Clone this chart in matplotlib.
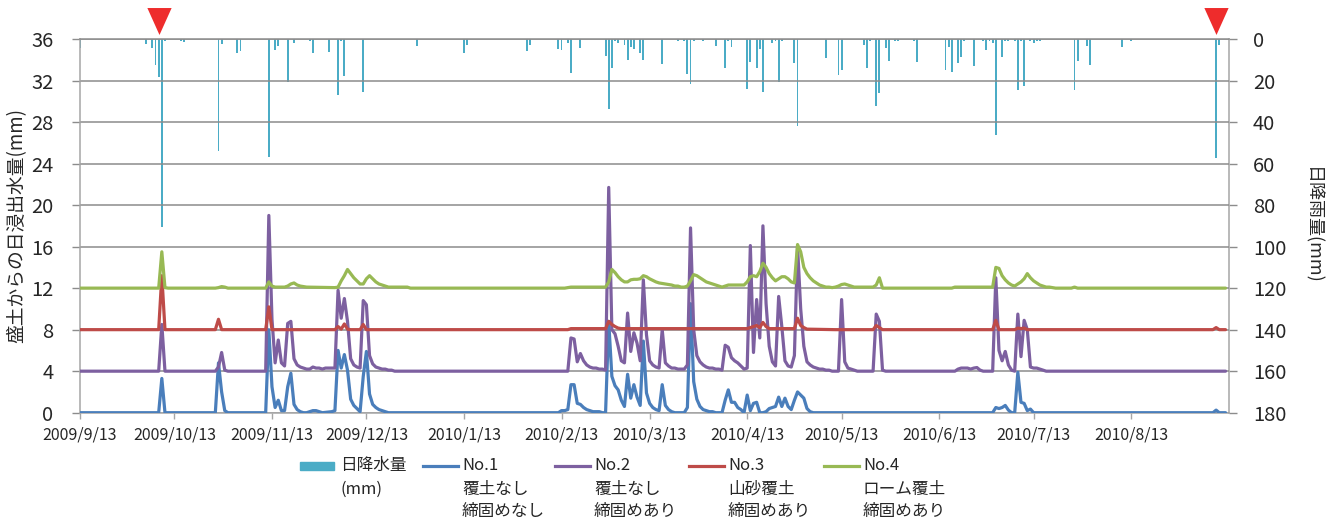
import matplotlib
matplotlib.use('Agg')
import matplotlib.pyplot as plt
import matplotlib.dates as mdates
import matplotlib.transforms as mtransforms
from matplotlib.lines import Line2D
from matplotlib.patches import Rectangle
import numpy as np
import datetime as dt

plt.rcParams['font.family'] = ['Noto Sans CJK JP', 'DejaVu Sans']

# ---------------- data ----------------
START = dt.date(2009, 9, 13)
END = dt.date(2010, 9, 13)

tick_dates = [dt.date(2009, 9, 13), dt.date(2009, 10, 13), dt.date(2009, 11, 13),
              dt.date(2009, 12, 13), dt.date(2010, 1, 13), dt.date(2010, 2, 13),
              dt.date(2010, 3, 13), dt.date(2010, 4, 13), dt.date(2010, 5, 13),
              dt.date(2010, 6, 13), dt.date(2010, 7, 13), dt.date(2010, 8, 13)]
tick_labels = ['2009/9/13', '2009/10/13', '2009/11/13', '2009/12/13', '2010/1/13',
               '2010/2/13', '2010/3/13', '2010/4/13', '2010/5/13', '2010/6/13',
               '2010/7/13', '2010/8/13']

# daily rainfall (day offset from 2009/9/13, mm)
rain_days = [0, 21, 23, 24, 25, 26, 27, 32, 33, 44, 45, 50, 51, 60, 62, 63, 66, 68,
             73, 74, 79, 82, 83, 84, 90, 107, 122, 123, 142, 143, 152, 153, 155, 156,
             159, 167, 168, 169, 170, 171, 173, 174, 175, 176, 178, 179, 185, 190, 192,
             193, 194, 195, 198, 202, 205, 206, 207, 212, 213, 215, 216, 217, 220, 221,
             222, 223, 227, 228, 237, 241, 242, 249, 250, 251, 253, 254, 256, 257, 259,
             260, 265, 266, 275, 276, 277, 279, 280, 281, 284, 287, 288, 289, 290, 291,
             293, 294, 295, 297, 298, 299, 300, 302, 303, 304, 305, 316, 317, 320, 321,
             331, 334, 361, 362]
rain_mm = [4.3, 2.4, 4.3, 12.3, 18.4, 90.4, 0.8, 0.8, 1.4, 53.9, 2.4, 6.9, 5.9, 56.8, 5.3,
           3.4, 20.8, 2.1, 0.8, 6.9, 6.4, 26.9, 0.8, 17.9, 25.3, 3.4, 6.9, 2.7, 5.9, 2.7,
           4.8, 5.3, 2.1, 16.3, 4.3, 8.3, 33.9, 14.2, 1.1, 1.8, 2.7, 9.9, 3.7, 4.8, 6.9,
           9.9, 12.0, 0.8, 1.1, 16.8, 21.9, 1.1, 0.8, 3.4, 14.2, 0.8, 3.7, 24.3, 11.2,
           13.8, 4.8, 25.3, 2.1, 0.8, 20.8, 1.1, 11.8, 41.9, 9.3, 17.3, 14.7, 2.7, 14.2,
           0.8, 32.3, 25.9, 4.3, 10.4, 0.8, 0.8, 0.8, 10.9, 14.7, 3.7, 15.8, 11.4, 8.8,
           1.1, 12.8, 1.1, 5.3, 0.8, 2.1, 46.4, 8.8, 0.8, 0.8, 0.8, 24.8, 0.8, 22.7, 1.1,
           2.1, 0.8, 1.1, 24.8, 10.4, 3.2, 12.3, 3.7, 0.8, 57.4, 2.7]

# No.1 (覆土なし 締固めなし)
no1_days = [0, 25, 26, 27, 43, 44, 45, 46, 47, 59, 60, 61, 62, 63, 64, 65, 66, 67, 68, 69,
            70, 71, 72, 73, 74, 75, 76, 77, 80, 81, 82, 83, 84, 85, 86, 87, 88, 89, 90, 91,
            92, 93, 94, 95, 96, 97, 98, 152, 153, 154, 155, 156, 157, 158, 159, 160, 161,
            162, 163, 165, 166, 167, 168, 169, 170, 171, 172, 173, 174, 175, 176, 177, 178,
            179, 180, 181, 182, 183, 184, 185, 186, 187, 188, 189, 192, 193, 194, 195, 196,
            197, 198, 199, 200, 201, 202, 204, 205, 206, 207, 208, 209, 210, 211, 212, 213,
            214, 215, 216, 217, 218, 219, 220, 221, 222, 223, 224, 225, 226, 227, 228, 229,
            230, 231, 232, 233, 290, 291, 292, 293, 294, 295, 296, 297, 298, 299, 300, 301,
            302, 303, 360, 361, 362, 364]
no1_vals = [0, 0, 3.3, 0, 0, 4.8, 2.0, 0.2, 0, 0, 8.0, 2.5, 0.5, 1.2, 0.2, 0.2, 2.5, 3.8,
            0.8, 0.3, 0.1, 0, 0, 0.1, 0.2, 0.2, 0.1, 0, 0.1, 0.2, 6.0, 4.3, 5.6, 4.1, 1.3,
            0.7, 0.4, 0.1, 3.5, 5.9, 1.8, 0.8, 0.5, 0.3, 0.2, 0.1, 0, 0, 0.2, 0.2, 0.3, 2.7,
            2.7, 0.9, 0.8, 0.5, 0.3, 0.2, 0.1, 0.1, 0, 0, 8.8, 3.5, 2.6, 2.2, 1.2, 0.6, 3.7,
            1.4, 2.7, 1.5, 0.7, 6.9, 1.9, 0.9, 0.5, 0.3, 0.2, 2.7, 0.7, 0.3, 0.1, 0, 0, 0.5,
            10.5, 3.0, 1.3, 0.6, 0.3, 0.2, 0.1, 0.1, 0, 0, 1.2, 2.2, 1.0, 1.0, 0.5, 0.3, 0,
            1.7, 0.2, 0.9, 1.0, 0, 0, 0.1, 0.4, 0.5, 0.6, 1.5, 0.6, 1.4, 0.6, 0.3, 1.2, 2.0,
            1.7, 1.4, 0.4, 0.1, 0, 0, 0.5, 0.4, 0.5, 0.7, 0.25, 0, 0, 3.9, 1.0, 0.9, 0.2,
            0.35, 0, 0, 0.25, 0, 0]

# No.2 (覆土なし 締固めあり)
no2_days = [0, 25, 26, 27, 43, 44, 45, 46, 47, 59, 60, 61, 62, 63, 64, 65, 66, 67, 68, 69,
            70, 71, 72, 73, 74, 75, 76, 77, 78, 79, 80, 81, 82, 83, 84, 85, 86, 87, 88, 89,
            90, 91, 92, 93, 94, 95, 96, 97, 98, 99, 100, 155, 156, 157, 158, 159, 160, 161,
            162, 163, 164, 165, 166, 167, 168, 169, 170, 171, 172, 173, 174, 175, 176, 177,
            178, 179, 180, 181, 182, 183, 184, 185, 186, 187, 188, 189, 190, 192, 193, 194,
            195, 196, 197, 198, 199, 200, 201, 202, 203, 204, 205, 206, 207, 208, 209, 210,
            211, 212, 213, 214, 215, 216, 217, 218, 219, 220, 221, 222, 223, 224, 225, 226,
            227, 228, 229, 230, 231, 232, 233, 234, 235, 236, 237, 238, 239, 241, 242, 243,
            244, 245, 246, 247, 252, 253, 254, 255, 256, 278, 279, 280, 281, 282, 283, 284,
            285, 286, 287, 290, 291, 292, 293, 294, 295, 296, 297, 298, 299, 300, 301, 302,
            303, 304, 305, 306, 307, 364]
no2_vals = [4, 4, 8.5, 4, 4, 4.4, 5.8, 4.1, 4, 4, 19.0, 9.0, 4.8, 7.0, 4.8, 4.5, 8.6, 8.8,
            5.2, 4.6, 4.4, 4.3, 4.2, 4.2, 4.4, 4.3, 4.3, 4.2, 4.3, 4.3, 4.3, 4.3, 11.8, 9.1,
            11.0, 8.8, 5.2, 4.6, 4.4, 4.3, 10.8, 10.4, 5.5, 4.7, 4.4, 4.3, 4.2, 4.2, 4.1,
            4.1, 4.0, 4.0, 7.2, 7.1, 4.9, 5.7, 5.0, 4.6, 4.4, 4.3, 4.3, 4.2, 4.2, 4.1, 21.7,
            8.0, 7.6, 6.4, 5.0, 4.8, 9.6, 5.9, 7.7, 6.7, 5.0, 12.8, 7.5, 5.0, 4.6, 4.4, 4.3,
            8.0, 4.8, 4.5, 4.3, 4.3, 4.2, 4.2, 4.6, 17.8, 8.0, 5.5, 4.9, 4.6, 4.4, 4.3, 4.3,
            4.2, 4.2, 4.1, 6.5, 6.3, 5.3, 5.0, 4.8, 4.5, 4.2, 4.3, 16.1, 5.8, 10.9, 7.2,
            18.0, 10.5, 6.4, 4.9, 4.5, 11.2, 8.3, 5.0, 4.5, 4.4, 5.5, 16.0, 10.0, 6.4, 4.9,
            4.6, 4.4, 4.3, 4.2, 4.2, 4.1, 4.1, 4.0, 4.0, 10.9, 4.9, 4.3, 4.2, 4.1, 4.0, 4.0,
            9.5, 8.8, 4.1, 4.0, 4.0, 4.2, 4.3, 4.3, 4.3, 4.2, 4.3, 4.35, 4.1, 4.0, 4.0, 13.0,
            6.0, 5.0, 5.9, 4.6, 4.1, 4.0, 9.5, 5.4, 8.9, 8.0, 4.4, 4.3, 4.3, 4.2, 4.1, 4.0,
            4.0]

# No.3 (山砂覆土 締固めあり)
no3_days = [0, 25, 26, 27, 43, 44, 45, 59, 60, 61, 81, 82, 83, 84, 85, 86, 89, 90, 91, 155,
            156, 167, 168, 169, 170, 171, 172, 212, 213, 214, 215, 216, 217, 218, 219, 227,
            228, 229, 230, 231, 240, 252, 253, 254, 255, 290, 291, 292, 297, 298, 299, 300,
            301, 360, 361, 362, 364]
no3_vals = [8, 8, 13.2, 8, 8, 9.0, 8, 8, 10.2, 8, 8, 8.3, 8.05, 8.55, 8.05, 8, 8, 8.5, 8, 8,
            8.1, 8.1, 8.8, 8.5, 8.3, 8.15, 8.1, 8.1, 8.2, 8.3, 8.4, 8.2, 8.7, 8.3, 8.1, 8.1,
            9.1, 8.4, 8.2, 8.05, 8.0, 8, 8.4, 8.2, 8, 8, 8.9, 8, 8, 8.15, 8.1, 8.15, 8, 8,
            8.2, 8, 8]

# No.4 (ローム覆土 締固めあり)
no4_days = [0, 25, 26, 27, 28, 43, 44, 45, 46, 47, 59, 60, 61, 62, 65, 66, 67, 68, 69, 70,
            71, 72, 81, 82, 83, 84, 85, 86, 87, 88, 89, 90, 91, 92, 93, 94, 95, 96, 97, 98,
            104, 105, 154, 156, 167, 168, 169, 170, 171, 172, 173, 174, 175, 176, 177, 178,
            179, 180, 181, 182, 183, 184, 185, 186, 187, 188, 189, 190, 191, 192, 193, 194,
            195, 196, 197, 198, 199, 200, 201, 202, 203, 204, 205, 206, 211, 212, 213, 214,
            215, 216, 217, 218, 219, 220, 221, 222, 223, 224, 225, 226, 227, 228, 229, 230,
            231, 232, 233, 234, 235, 236, 237, 238, 239, 240, 241, 242, 243, 244, 245, 246,
            252, 253, 254, 255, 277, 278, 290, 291, 292, 293, 294, 295, 296, 297, 298, 299,
            300, 301, 302, 303, 304, 305, 306, 307, 308, 309, 310, 315, 316, 317, 364]
no4_vals = [12, 12, 15.5, 12.05, 12, 12, 12.05, 12.15, 12.1, 12.0, 12, 12.6, 12.2, 12.1,
            12.1, 12.2, 12.4, 12.5, 12.3, 12.2, 12.15, 12.1, 12.05, 12.1, 12.7, 13.2, 13.8,
            13.4, 13.0, 12.7, 12.4, 12.4, 12.9, 13.2, 12.9, 12.6, 12.4, 12.3, 12.2, 12.1,
            12.1, 12.0, 12.0, 12.1, 12.1, 12.6, 13.8, 13.5, 13.1, 12.8, 12.6, 12.6, 12.8,
            12.85, 12.85, 12.9, 13.2, 13.1, 12.9, 12.75, 12.6, 12.5, 12.45, 12.4, 12.35,
            12.3, 12.2, 12.2, 12.1, 12.1, 12.2, 12.7, 13.3, 13.2, 13.0, 12.8, 12.6, 12.5,
            12.4, 12.3, 12.2, 12.1, 12.2, 12.3, 12.3, 12.6, 13.1, 13.2, 13.1, 13.6, 14.4,
            14.0, 13.4, 13.0, 12.7, 12.9, 13.1, 13.1, 12.9, 12.6, 12.5, 16.2, 15.5, 14.0,
            13.4, 13.0, 12.7, 12.5, 12.3, 12.2, 12.1, 12.1, 12.05, 12.1, 12.2, 12.35, 12.4,
            12.3, 12.2, 12.1, 12.1, 12.3, 13.0, 12.0, 12.0, 12.1, 12.1, 14.0, 13.9, 13.2,
            12.8, 12.5, 12.3, 12.2, 12.4, 12.6, 12.9, 13.4, 13.0, 12.7, 12.5, 12.3, 12.2,
            12.1, 12.1, 12.05, 12.0, 12.0, 12.1, 12.0, 12.0]

marker_dates = [dt.date(2009, 10, 8), dt.date(2010, 9, 9)]

series_names = ['No.1', 'No.2', 'No.3', 'No.4']
series_sub1 = ['覆土なし', '覆土なし', '山砂覆土', 'ローム覆土']
series_sub2 = ['締固めなし', '締固めあり', '締固めあり', '締固めあり']
rain_name = ['日降水量', '(mm)']

# ---------------- styling ----------------
W, H = 1337, 521
TXT = '#262626'
GRID = '#8c8c8c'
SPINE = '#a6a6a6'
RAIN_C = '#4BACC6'
COLORS = ['#4A7EBB', '#7D60A0', '#BE4B48', '#98B954']

fig = plt.figure(figsize=(W / 100, H / 100), dpi=100)
ax_l, ax_b, ax_w, ax_h = 80 / W, 1 - 412.7 / H, (1228.7 - 80) / W, (412.7 - 39) / H
ax = fig.add_axes([ax_l, ax_b, ax_w, ax_h])
ax2 = ax.twinx()
ax.set_zorder(2)
ax2.set_zorder(1)
ax.patch.set_visible(False)

x0 = mdates.date2num(START)

# rainfall bars on secondary (inverted) axis
ax2.bar(x0 + np.array(rain_days), rain_mm, width=0.6, color=RAIN_C, linewidth=0)
ax2.set_ylim(180, 0)
ax2.set_yticks(np.arange(0, 181, 20))

# lines
for days, vals, c in [(no1_days, no1_vals, COLORS[0]), (no2_days, no2_vals, COLORS[1]),
                      (no3_days, no3_vals, COLORS[2]), (no4_days, no4_vals, COLORS[3])]:
    ax.plot(x0 + np.array(days), vals, color=c, lw=2.3, solid_joinstyle='round',
            solid_capstyle='round', zorder=3)

ax.set_ylim(0, 36)
ax.set_yticks(np.arange(0, 37, 4))
ax.set_xlim(x0, mdates.date2num(END))
ax.set_xticks([mdates.date2num(d) for d in tick_dates])
ax.set_xticklabels(tick_labels)
ax.grid(axis='y', color=GRID, lw=1.1, zorder=0)
ax.set_axisbelow(True)

for s in ['left', 'bottom']:
    ax.spines[s].set_color(SPINE)
    ax.spines[s].set_linewidth(1.1)
ax.spines['top'].set_color(GRID)
ax.spines['top'].set_linewidth(1.1)
ax.spines['right'].set_visible(False)
for s in ['left', 'top', 'bottom']:
    ax2.spines[s].set_visible(False)
ax2.spines['right'].set_color(SPINE)
ax2.spines['right'].set_linewidth(1.1)

ax.tick_params(axis='y', direction='out', length=6, width=1, color=GRID,
               labelsize=14.5, pad=13, labelcolor=TXT)
ax.tick_params(axis='x', direction='out', length=4, width=1, color=SPINE,
               labelsize=11.5, pad=6, labelcolor=TXT)
ax2.tick_params(axis='y', direction='out', length=5.5, width=1, color=GRID,
                labelsize=14.5, pad=12, labelcolor=TXT)

ax.set_ylabel('盛土からの日浸出水量(mm)', fontsize=13.5, color=TXT, va='center')
ax.yaxis.set_label_coords((17 - 80) / (1228.7 - 80), 0.5)
ax2.set_ylabel('日降雨量(mm)', fontsize=13, color=TXT, rotation=270, va='center')
ax2.yaxis.set_label_coords((1312 - 80) / (1228.7 - 80), 0.5)

# red triangle markers above the plot
trans = mtransforms.blended_transform_factory(ax.transData, ax.transAxes)
tri = [(-0.9, 1), (0.9, 1), (0, -1), (-0.9, 1)]
ax.plot([mdates.date2num(d) for d in marker_dates], [1 + 18.5 / 373.7] * 2,
        transform=trans, ls='none', marker=tri, markersize=19.4,
        color='#EE2C2C', markeredgewidth=0, clip_on=False, zorder=5)

# ---------------- legend (manual, handle aligned with first text line) ----------------
def fx(px):
    return px / W


def fy(py):
    return 1 - py / H


LFS = 12
row_y = [465, 489, 511]
# rain entry
fig.patches.append(Rectangle((fx(300), fy(470)), fx(334) - fx(300), fy(462) - fy(470),
                             transform=fig.transFigure, color=RAIN_C, figure=fig))
for i, t in enumerate(rain_name):
    fig.text(fx(340), fy(row_y[i]), t, fontsize=LFS, color=TXT, va='center', ha='left')

handle_x = [423, 555, 689, 824]
for i in range(4):
    hx = handle_x[i]
    fig.lines.append(Line2D([fx(hx), fx(hx + 35)], [fy(466), fy(466)], color=COLORS[i],
                            lw=2.3, transform=fig.transFigure, figure=fig))
    for j, t in enumerate([series_names[i], series_sub1[i], series_sub2[i]]):
        fig.text(fx(hx + 39), fy(row_y[j]), t, fontsize=LFS, color=TXT,
                 va='center', ha='left')

fig.savefig('out.png', dpi=100)
